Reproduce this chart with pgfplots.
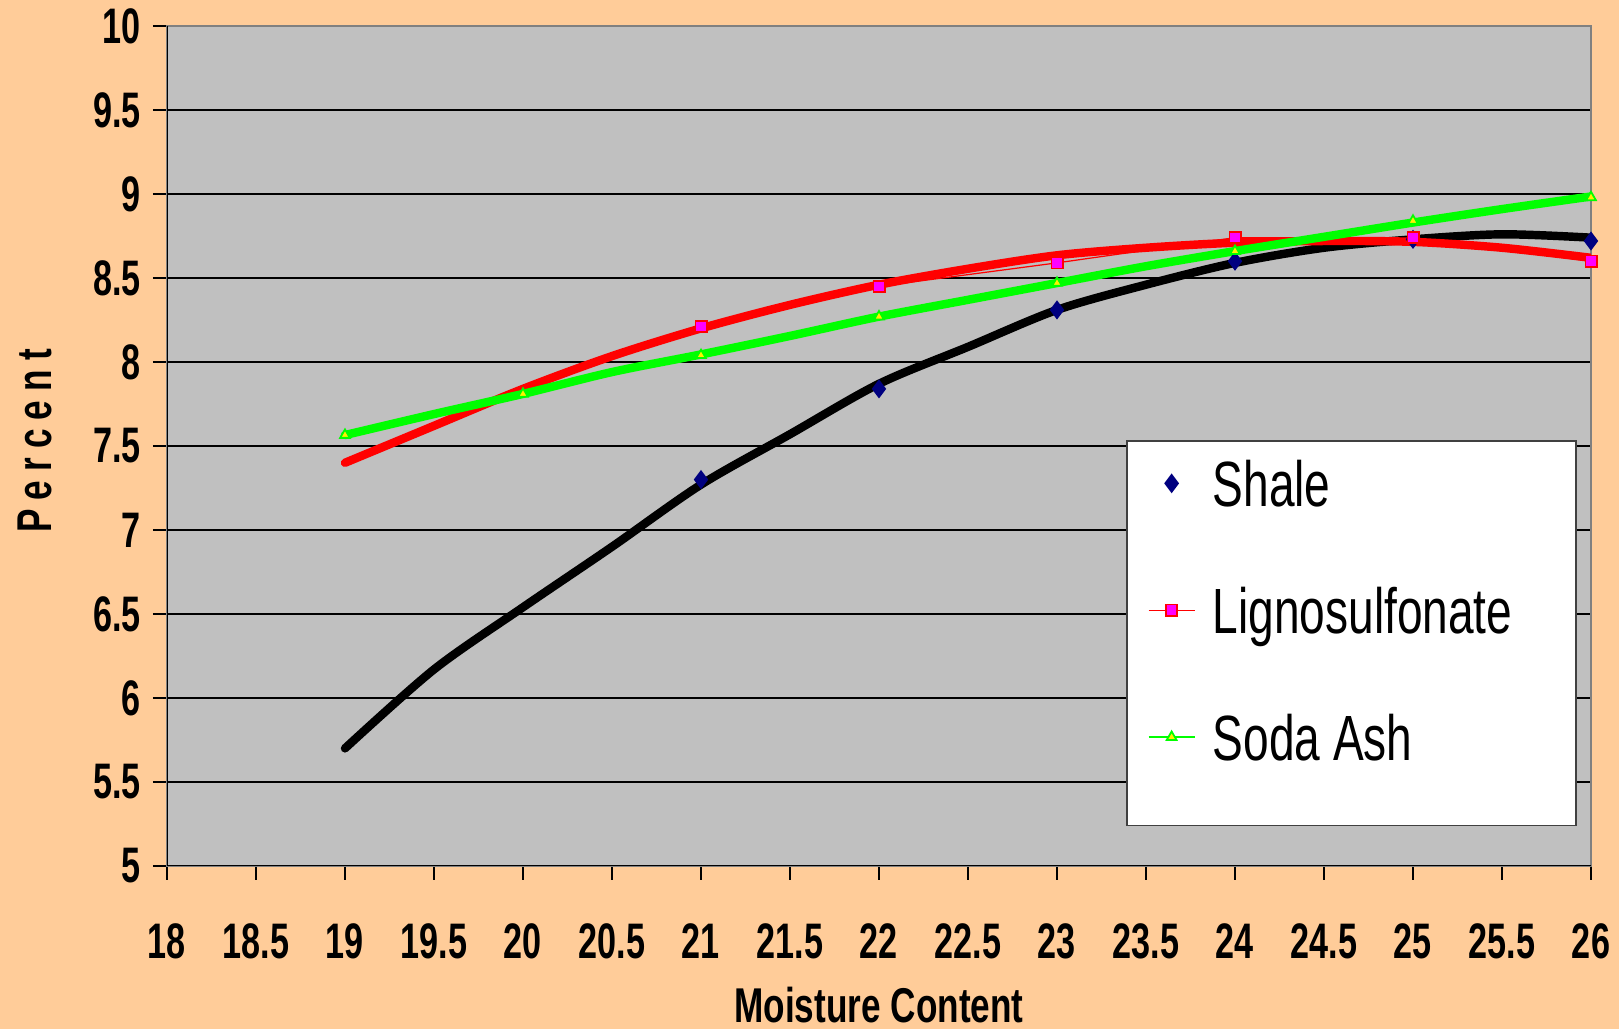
\documentclass[border=0pt]{standalone}
\usepackage{fontspec}
\setmainfont{Liberation Sans}[FakeStretch=0.72]
\newfontfamily\tickfont{Liberation Sans}[FakeStretch=0.685]
\usepackage{pgfplots}
\pgfplotsset{compat=1.18}

\definecolor{peach}{HTML}{FFCC99}
\definecolor{plotgray}{HTML}{C0C0C0}
\definecolor{navy}{HTML}{000080}
\definecolor{lime}{HTML}{00FF00}
\definecolor{pink}{HTML}{FF00FF}

% trendlines
\pgfplotstableread{
x     shale  ligno  soda
19    5.70   7.40   7.565
19.5  6.17   7.62   7.69
20    6.54   7.84   7.81
20.5  6.90   8.035  7.94
21    7.27   8.20   8.045
21.5  7.57   8.34   8.155
22    7.87   8.46   8.27
22.5  8.09   8.555  8.37
23    8.31   8.635  8.47
23.5  8.46   8.68   8.57
24    8.59   8.71   8.66
24.5  8.68   8.72   8.745
25    8.73   8.715  8.83
25.5  8.76   8.68   8.91
26    8.74   8.62   8.985
}\trend

\begin{document}
\begin{tikzpicture}
\fill[peach] (0,0) rectangle (16.19cm,10.29cm);
\begin{axis}[
    at={(1.67cm,1.63cm)}, anchor=south west,
    scale only axis,
    width=14.24cm, height=8.40cm,
    xmin=18, xmax=26, ymin=5, ymax=10,
    xtick={18,18.5,...,26},
    ytick={5,5.5,...,10},
    /pgf/number format/assume math mode=true,
    tick label style={font=\tickfont\fontsize{14.2pt}{16pt}\selectfont\bfseries},
    xticklabel style={yshift=-0.31cm},
    tick align=outside,
    major tick length=0.14cm,
    xtick pos=lower, ytick pos=left,
    tick style={black, line width=0.4pt},
    ymajorgrids,
    grid style={black, line width=0.4pt},
    axis background/.style={fill=plotgray},
    axis line style={draw=gray, line width=0.5pt},
    xlabel={Moisture Content},
    xlabel style={font=\fontsize{13.9pt}{16pt}\selectfont\bfseries,
        at={(axis description cs:0.5,-0.1655)}, anchor=center},
    ylabel={P\kern2.6pt e\kern2.6pt r\kern2.6pt c\kern2.6pt e\kern2.6pt n\kern2.6pt t},
    ylabel style={font=\fontsize{13.9pt}{16pt}\selectfont\bfseries,
        at={(axis description cs:-0.0927,0.506)}, anchor=center, rotate=0},
    legend cell align=left,
    legend image code/.code={%
        \draw[mark repeat=2,mark phase=2] plot coordinates {(0cm,0.23cm) (0.23cm,0.23cm) (0.46cm,0.23cm)};},
    legend style={at={(axis description cs:0.6735,0.507)}, anchor=north west,
        fill=white, draw=darkgray, line width=0.5pt,
        font=\fontsize{18.2pt}{20pt}\selectfont,
        inner xsep=6pt, inner ysep=1pt, row sep=0.9pt, column sep=3pt,
        nodes={inner xsep=2pt, inner ysep=1pt, text height=16.7pt, text depth=16.5pt}},
]
% black left and bottom axis lines
\draw[black, line width=0.5pt] (rel axis cs:0,1) -- (rel axis cs:0,0) -- (rel axis cs:1,0);

% measured values
\addplot[only marks, mark=diamond*, mark size=2.4pt, color=navy] coordinates {
    (21,7.30) (22,7.84) (23,8.31) (24,8.60) (25,8.73) (26,8.72)
};
\addlegendentry{Shale}

\addplot[red, line width=0.35pt, mark=square*, mark size=1.6pt,
    mark options={fill=pink, draw=red, line width=0.5pt}] coordinates {
    (21,8.21) (22,8.45) (23,8.59) (24,8.74) (25,8.74) (26,8.60)
};
\addlegendentry{Lignosulfonate\rule{10pt}{0pt}}

\addplot[lime, line width=0.35pt, mark=triangle*, mark size=1.6pt,
    mark options={fill=yellow, draw=lime, line width=0.5pt}] coordinates {
    (19,7.565) (20,7.81) (21,8.04) (22,8.27) (23,8.47) (24,8.66) (25,8.84) (26,8.98)
};
\addlegendentry{Soda Ash}

% thick trendlines, drawn over the markers
\addplot[forget plot, black, line width=2.4pt, line cap=round, smooth, tension=0.5] table[x=x, y=shale] {\trend};
\addplot[forget plot, red, line width=2.4pt, line cap=round, smooth, tension=0.5] table[x=x, y=ligno] {\trend};
\addplot[forget plot, lime, line width=2.4pt, line cap=round, smooth, tension=0.5] table[x=x, y=soda] {\trend};
\end{axis}
\pgfresetboundingbox
\useasboundingbox (0,0) rectangle (16.19cm,10.29cm);
\end{tikzpicture}
\end{document}
